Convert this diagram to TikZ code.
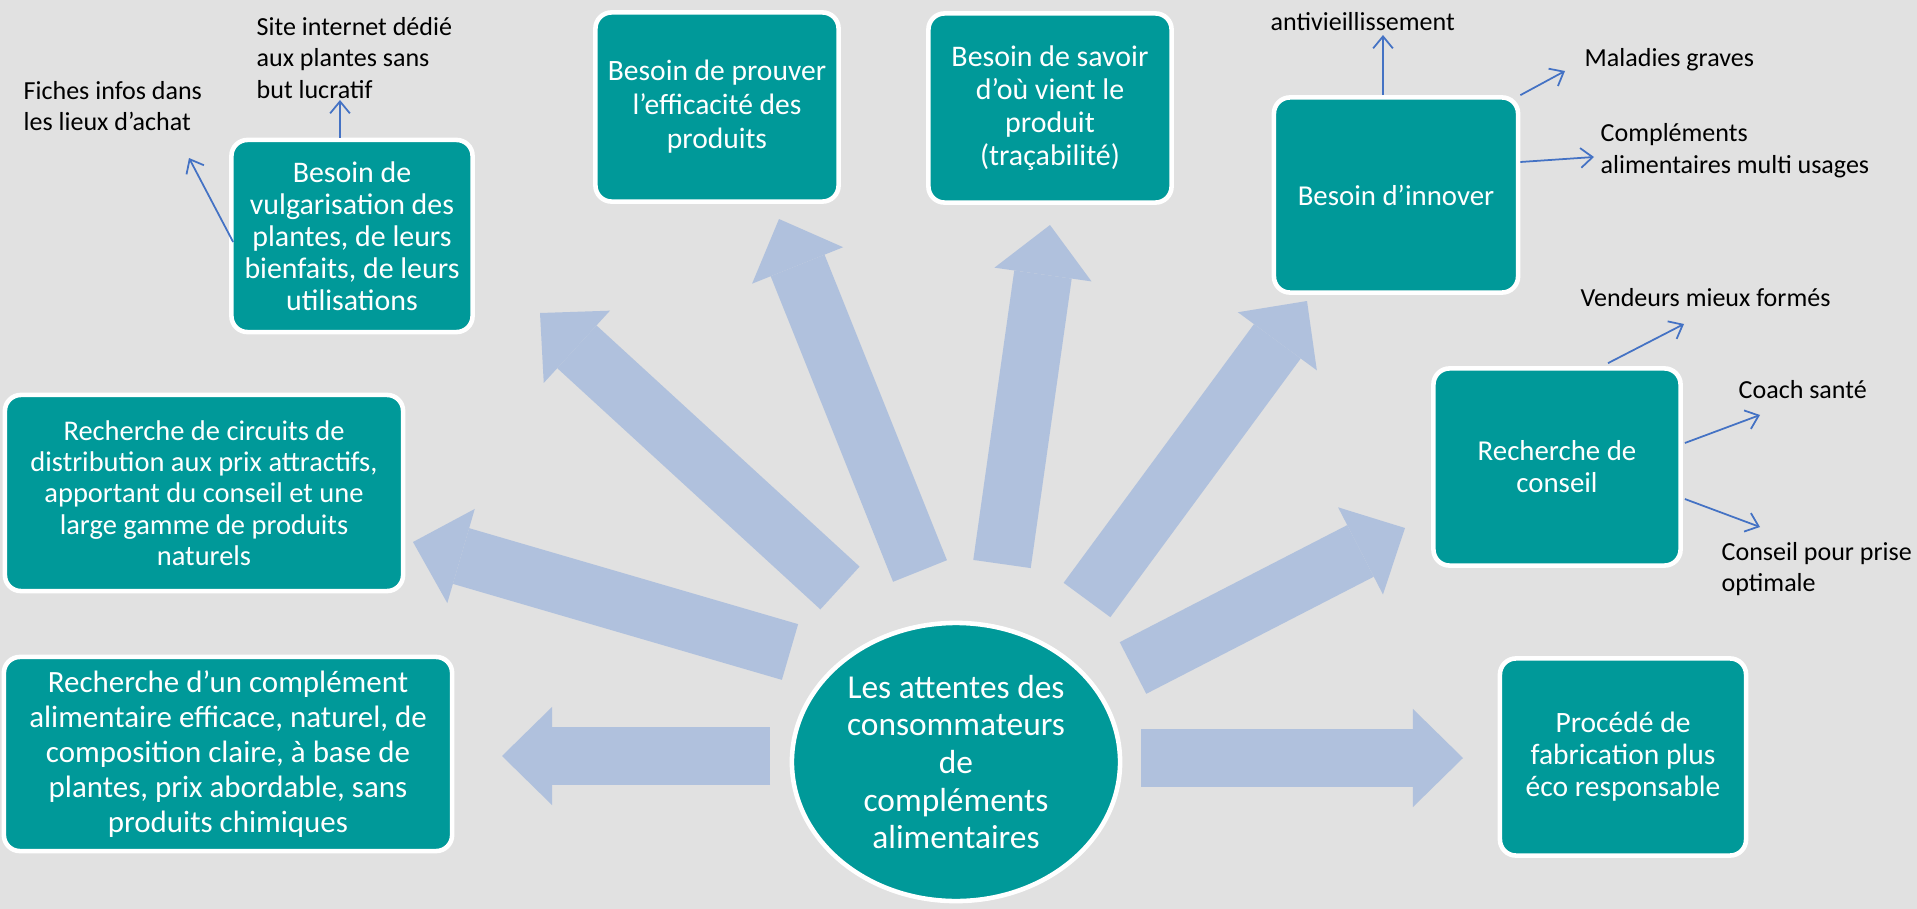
\documentclass[tikz,border=0pt]{standalone}
\usepackage{fontspec}
\setmainfont{Carlito}
\usetikzlibrary{positioning,arrows.meta,calc,shapes.geometric}
\definecolor{boxteal}{HTML}{009999}
\definecolor{flowblue}{HTML}{B0C1DD}
\definecolor{linkblue}{HTML}{4472C4}
\definecolor{paper}{HTML}{E1E1E1}

\begin{document}
\begin{tikzpicture}[x=0.01cm, y=-0.01cm,
    box/.style={draw=white, line width=1.3pt, fill=boxteal, text=white,
      rounded corners=0.16cm, align=center, inner sep=1pt},
    flow/.style={flowblue, line width=0.58cm,
      -{Triangle[length=0.5cm, width=0.98cm, line width=0pt]}},
    link/.style={linkblue, line width=0.5pt,
      -{Straight Barb[length=3.4pt, width=5.6pt]}},
    note/.style={anchor=west, align=left, inner sep=0pt,
      font=\fontsize{7.4}{9}\selectfont}]

    % Background
    \fill[paper] (0,0) rectangle (1917,909);
    \useasboundingbox (0,0) rectangle (1917,909);

    % Big arrows leaving the centre
    \coordinate (w-tail) at (770,756);    \coordinate (w-tip) at (502,756);
    \coordinate (wnw-tail) at (790,652);  \coordinate (wnw-tip) at (413,542);
    \coordinate (nw-tail) at (840,588);   \coordinate (nw-tip) at (540,313);
    \coordinate (nnw-tail) at (920,571);  \coordinate (nnw-tip) at (779,219);
    \coordinate (n-tail) at (1002,564);   \coordinate (n-tip) at (1050,225);
    \coordinate (ne-tail) at (1087,600);  \coordinate (ne-tip) at (1307,301);
    \coordinate (ene-tail) at (1133,668); \coordinate (ene-tip) at (1405,528);
    \coordinate (e-tail) at (1141,758);   \coordinate (e-tip) at (1463,758);
    \foreach \dir in {w,wnw,nw,nnw,n,ne,ene,e}
      \draw[flow] (\dir-tail) -- (\dir-tip);

    % Centre
    \node[box, ellipse, minimum width=3.28cm, minimum height=2.78cm,
      inner sep=0pt, font=\fontsize{9.5}{10.7}\selectfont] (attentes) at (956,762)
      {Les attentes des\\consommateurs\\de\\compléments\\alimentaires};

    % Needs
    \node[box, minimum width=4.48cm, minimum height=1.94cm,
      font=\fontsize{8.8}{10}\selectfont] (complement) at (228,754)
      {Recherche d’un complément\\alimentaire efficace, naturel, de\\composition claire, à base de\\plantes, prix abordable, sans\\produits chimiques};
    \node[box, minimum width=3.98cm, minimum height=1.96cm,
      font=\fontsize{8.1}{8.9}\selectfont] (circuits) at (204,493)
      {Recherche de circuits de\\distribution aux prix attractifs,\\apportant du conseil et une\\large gamme de produits\\naturels};
    \node[box, minimum width=2.41cm, minimum height=1.92cm,
      font=\fontsize{8.5}{9.1}\selectfont] (vulg) at (352,236)
      {Besoin de\\vulgarisation des\\plantes, de leurs\\bienfaits, de leurs\\utilisations};
    \node[box, minimum width=2.43cm, minimum height=1.89cm,
      font=\fontsize{8.4}{9.7}\selectfont] (prouver) at (717,107)
      {Besoin de prouver\\l’efficacité des\\produits};
    \node[box, minimum width=2.43cm, minimum height=1.89cm,
      font=\fontsize{8.5}{9.4}\selectfont] (savoir) at (1050,108)
      {Besoin de savoir\\d’où vient le\\produit\\(traçabilité)};
    \node[box, minimum width=2.44cm, minimum height=1.95cm,
      font=\fontsize{8.2}{9.8}\selectfont] (innover) at (1396,195)
      {Besoin d’innover};
    \node[box, minimum width=2.47cm, minimum height=1.97cm,
      font=\fontsize{8.2}{9.1}\selectfont] (conseil) at (1557,467)
      {Recherche de\\conseil};
    \node[box, minimum width=2.46cm, minimum height=1.97cm,
      font=\fontsize{8.4}{9.1}\selectfont] (procede) at (1623,757)
      {Procédé de\\fabrication plus\\éco responsable};

    % Details
    \node[note] (site) at (256,58) {Site internet dédié\\aux plantes sans\\but lucratif};
    \node[note] (fiches) at (23,106) {Fiches infos dans\\les lieux d’achat};
    \node[note] (antivieil) at (1270,22) {antivieillissement};
    \node[note] (maladies) at (1584,60) {Maladies graves};
    \node[note] (multi) at (1600,151) {Compléments\\alimentaires multi usages};
    \node[note] (vendeurs) at (1580,298) {Vendeurs mieux formés};
    \node[note] (coach) at (1738,390) {Coach santé};
    \node[note] (prise) at (1721,569) {Conseil pour prise\\optimale};

    \coordinate (site-in) at (340,100);
    \coordinate (fiches-in) at (189,158);
    \coordinate (antivieil-in) at (1383,35);
    \coordinate (maladies-in) at (1565,71);
    \coordinate (multi-in) at (1594,157);
    \coordinate (vendeurs-in) at (1684,324);
    \coordinate (coach-in) at (1760,415);
    \coordinate (prise-in) at (1760,527);

    \draw[link] ($(vulg.north)+(-12,0)$) -- (site-in);
    \draw[link] ($(vulg.west)+(4,6)$) -- (fiches-in);
    \draw[link] ($(innover.north)+(-13,0)$) -- (antivieil-in);
    \draw[link] (innover.north east) -- (maladies-in);
    \draw[link] ($(innover.east)+(0,-33)$) -- (multi-in);
    \draw[link] ($(conseil.north)+(51,-3)$) -- (vendeurs-in);
    \draw[link] ($(conseil.east)+(2,-24)$) -- (coach-in);
    \draw[link] ($(conseil.east)+(2,32)$) -- (prise-in);
  \end{tikzpicture}
\end{document}
